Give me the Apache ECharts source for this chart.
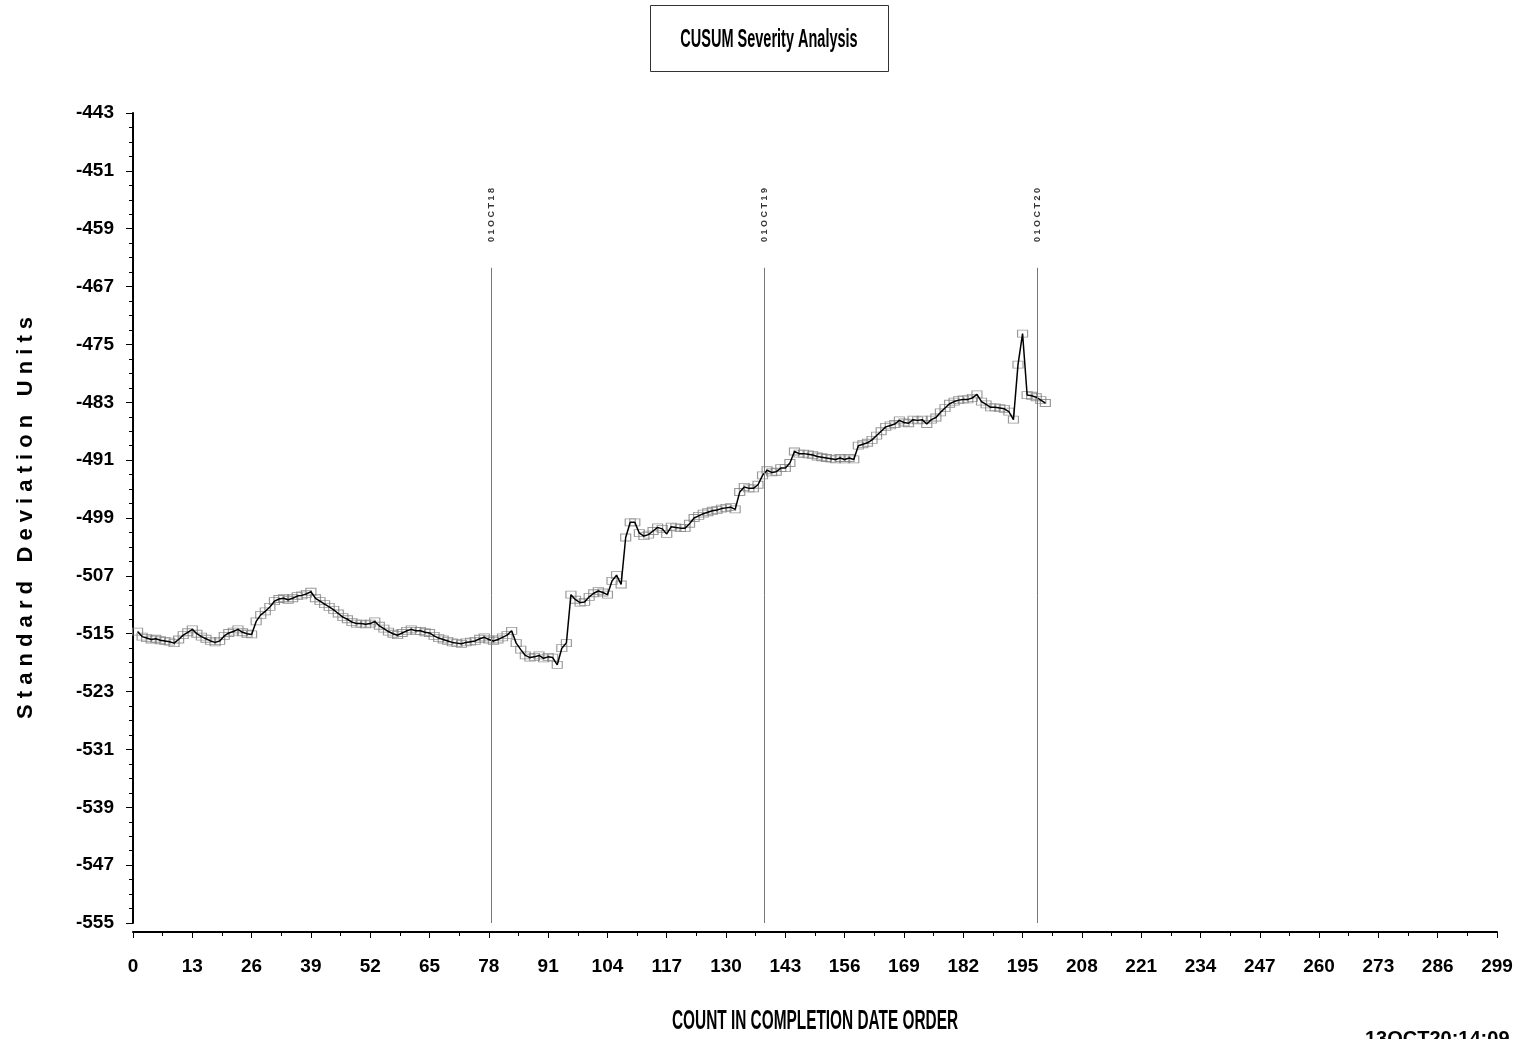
<!DOCTYPE html>
<html>
<head>
<meta charset="utf-8">
<script src="https://cdn.jsdelivr.net/npm/echarts@6/dist/echarts.min.js"></script>
<style>
html,body{margin:0;padding:0;background:#fff;}
#chart{width:1518px;height:1039px;}
</style>
</head>
<body>
<div id="chart"></div>
<script>
// Count index (x) and CUSUM values (y)
const counts = [];
for (let i = 1; i <= 200; i++) counts.push(i);
const cusumValues = [
 -514.7,-515.4,-515.6,-515.8,-515.7,-515.9,-516.0,-516.1,-516.3,-515.8,
 -515.2,-514.8,-514.4,-515.0,-515.4,-515.7,-516.0,-516.2,-516.0,-515.3,
 -514.9,-514.7,-514.4,-514.8,-515.0,-515.1,-513.3,-512.4,-511.9,-511.3,
 -510.5,-510.2,-510.1,-510.3,-510.1,-509.8,-509.7,-509.5,-509.2,-510.1,
 -510.5,-510.9,-511.3,-511.7,-512.2,-512.7,-513.0,-513.4,-513.6,-513.6,
 -513.7,-513.6,-513.3,-513.9,-514.3,-514.7,-515.0,-515.2,-514.9,-514.6,
 -514.4,-514.6,-514.6,-514.8,-514.9,-515.3,-515.6,-515.8,-516.0,-516.2,
 -516.3,-516.4,-516.2,-516.1,-516.0,-515.7,-515.5,-515.8,-516.0,-515.8,
 -515.5,-515.2,-514.6,-516.3,-517.2,-518.0,-518.3,-518.2,-518.0,-518.4,
 -518.2,-518.3,-519.3,-517.0,-516.3,-509.6,-510.3,-510.7,-510.6,-509.9,
 -509.4,-509.1,-509.3,-509.6,-507.7,-506.9,-508.2,-501.7,-499.6,-499.6,
 -501.1,-501.5,-501.3,-500.8,-500.3,-500.5,-501.2,-500.2,-500.3,-500.4,
 -500.4,-499.8,-499.0,-498.7,-498.4,-498.2,-498.0,-497.9,-497.7,-497.6,
 -497.5,-497.8,-495.4,-494.7,-494.9,-494.9,-494.4,-493.1,-492.4,-492.7,
 -492.6,-492.1,-492.1,-491.4,-489.8,-490.1,-490.1,-490.2,-490.3,-490.5,
 -490.6,-490.7,-490.8,-490.9,-490.7,-490.9,-490.7,-490.9,-489.0,-488.8,
 -488.6,-488.2,-487.6,-487.0,-486.4,-486.2,-486.0,-485.5,-485.8,-485.9,
 -485.4,-485.5,-485.4,-486.0,-485.4,-485.1,-484.4,-483.8,-483.2,-482.9,
 -482.7,-482.6,-482.6,-482.4,-481.9,-482.9,-483.3,-483.7,-483.7,-483.8,
 -483.9,-484.3,-485.4,-477.8,-473.5,-482.0,-482.1,-482.3,-482.7,-483.1
];
// Date reference lines
const markerX = [78.5, 138.4, 198.3];
const markerLabels = ['01OCT18', '01OCT19', '01OCT20'];
const markerTop = -464.4;
const markerLabelY = -457.1;
// Axis ticks
const xMin = 0, xMax = 299, xStep = 13;
const yMin = -555, yMax = -443, yStep = 8;

const spaced = s => s.split('').join(' ');
const sans = "'Liberation Sans', Arial, sans-serif";

const points = counts.map((c, i) => [c, cusumValues[i]]);

const chart = echarts.init(document.getElementById('chart'));
chart.setOption({
  animation: false,
  backgroundColor: '#fff',
  grid: { left: 133, right: 21, top: 113, bottom: 116, containLabel: false },
  xAxis: {
    type: 'value', min: xMin, max: xMax, interval: xStep,
    offset: 9,
    axisLine: { show: true, lineStyle: { color: '#000', width: 2 } },
    axisTick: { show: true, length: 6, lineStyle: { color: '#000' } },
    minorTick: { show: true, splitNumber: 2, length: 4, lineStyle: { color: '#000' } },
    axisLabel: { margin: 25, fontFamily: sans, fontWeight: 'bold', fontSize: 19, color: '#000' },
    splitLine: { show: false }
  },
  yAxis: {
    type: 'value', min: yMin, max: yMax, interval: yStep,
    offset: 6,
    name: 'S t a n d a r d   D e v i a t i o n   U n i t s',
    nameLocation: 'middle', nameGap: 90, nameRotate: 90,
    nameTextStyle: { fontFamily: sans, fontWeight: 'bold', fontSize: 22, color: '#000' },
    axisLine: { show: true, lineStyle: { color: '#000', width: 2 } },
    axisTick: { show: true, length: 7, lineStyle: { color: '#000' } },
    minorTick: { show: true, splitNumber: 4, length: 4, lineStyle: { color: '#000' } },
    axisLabel: { margin: 13, fontFamily: sans, fontWeight: 'bold', fontSize: 19, color: '#000' },
    splitLine: { show: false }
  },
  graphic: [
    {
      type: 'rect', left: 650, top: 5,
      shape: { width: 238, height: 66 },
      style: { fill: '#fff', stroke: '#333', lineWidth: 1 }
    },
    {
      type: 'text', x: 769, y: 40, scaleX: 0.58,
      style: { text: 'CUSUM Severity Analysis', fontFamily: sans, fontWeight: 'bold', fontSize: 25,
               fill: '#000', align: 'center', verticalAlign: 'middle' }
    },
    {
      type: 'text', x: 815, y: 1022, scaleX: 0.57,
      style: { text: 'COUNT IN COMPLETION DATE ORDER', fontFamily: sans, fontWeight: 'bold', fontSize: 27,
               fill: '#000', align: 'center', verticalAlign: 'middle' }
    },
    {
      type: 'text', left: 1365, top: 1029,
      style: { text: '13OCT20:14:09', fontFamily: sans, fontWeight: 'bold', fontSize: 20, fill: '#000' }
    }
  ],
  series: [
    {
      type: 'scatter',
      data: points,
      symbol: 'rect', symbolSize: [10, 7],
      itemStyle: { color: 'rgba(0,0,0,0)', borderColor: '#808080', borderWidth: 1 },
      z: 2,
      markLine: {
        silent: true, symbol: 'none',
        lineStyle: { color: '#777', width: 1, type: 'solid' },
        label: { show: false },
        data: markerX.map(x => [{ coord: [x, markerTop] }, { coord: [x, yMin] }])
      }
    },
    {
      type: 'line',
      data: points,
      showSymbol: false,
      lineStyle: { color: '#000', width: 1.5 },
      z: 3
    },
    {
      type: 'scatter',
      symbolSize: 0,
      data: markerX.map((x, i) => ({ value: [x, markerLabelY], name: markerLabels[i] })),
      label: {
        show: true, position: 'inside', rotate: 90,
        formatter: p => spaced(p.name),
        fontFamily: sans, fontWeight: 'bold', fontSize: 9, color: '#000'
      }
    }
  ]
});
</script>
</body>
</html>
